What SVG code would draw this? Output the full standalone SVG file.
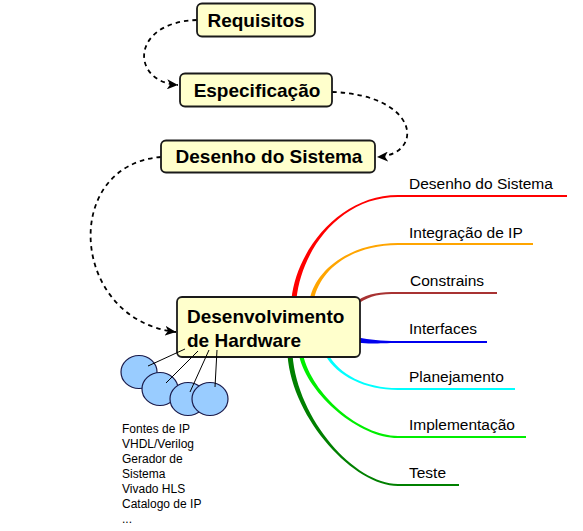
<svg xmlns="http://www.w3.org/2000/svg" width="583" height="531" viewBox="0 0 583 531">
<style>
.node{fill:#ffffcc;stroke:#1a1a1a;stroke-width:1.8}
.title{font-family:"Liberation Sans",Arial,sans-serif;font-weight:bold;font-size:19px;fill:#000}
.lbl{font-family:"Liberation Sans",Arial,sans-serif;font-size:15.5px;fill:#000}
.sm{font-family:"Liberation Sans",Arial,sans-serif;font-size:12px;fill:#000}
.dash{fill:none;stroke:#000;stroke-width:1.8;stroke-dasharray:4.5 4;marker-end:url(#arr)}
.blob{fill:#99ccff;stroke:#1a1a4a;stroke-width:1.2}
.thin{stroke:#000;stroke-width:1}
</style>
<defs>
<marker id="arr" markerUnits="userSpaceOnUse" markerWidth="12" markerHeight="10" refX="11" refY="5" orient="auto">
<path d="M0,0 L11,5 L0,10 L3,5 Z" fill="#000"/>
</marker>
</defs>
<g id="connectors">
<path class="dash" d="M197,20 C130,22 130,82 178,85"/>
<path class="dash" d="M332,92 C420,95 425,155 377,157"/>
<path class="dash" d="M161,157 C60,165 70,320 176,332"/>
<path fill="#ff0000" d="M291.5,299 C296.5,250 340,195 398,195 L567,195 L567,197 L398,197 C340,197 301.5,250 296.5,299 Z"/>
<path fill="#ffa500" d="M310,298.6 C316,269.6 350,243 398,243 L533,243 L533,245 L398,245 C350,245 320,270.4 314,299.4 Z"/>
<path fill="#a83232" d="M357.2,300.8 C369.2,292.8 380,292 398,292 L497,292 L497,294 L398,294 C380,294 370.8,295.2 358.8,303.2 Z"/>
<path fill="#0000ee" d="M358,337.5 C370,339.5 380,341 398,341 L487,341 L487,343 L398,343 C380,343 370,344.5 358,342.5 Z"/>
<path fill="#00ffff" d="M328.3,354.2 C339.3,374.2 365,388 398,388 L515,388 L515,390 L398,390 C365,390 336.7,375.8 325.7,355.8 Z"/>
<path fill="#00ee00" d="M303,354.6 C312,394.6 360,436 398,436 L526,436 L526,438 L398,438 C360,438 308,395.4 299,355.4 Z"/>
<path fill="#008000" d="M292.5,354.8 C297.5,419.8 355,484 398,484 L459,484 L459,486 L398,486 C355,486 292.5,420.2 287.5,355.2 Z"/>
</g>
<g id="requisitos">
<rect class="node" x="197" y="3.5" width="118" height="33" rx="5"/>
<text class="title" x="256" y="27" text-anchor="middle">Requisitos</text>
</g>
<g id="especificacao">
<rect class="node" x="180" y="73.5" width="152" height="33" rx="5"/>
<text class="title" x="257" y="97" text-anchor="middle">Especificação</text>
</g>
<g id="desenho">
<rect class="node" x="161" y="140.5" width="214" height="32" rx="5"/>
<text class="title" x="269" y="163" text-anchor="middle">Desenho do Sistema</text>
</g>
<g id="desenvolvimento">
<rect class="node" x="177" y="297" width="183" height="60" rx="5"/>
<text class="title" x="187" y="323">Desenvolvimento</text>
<text class="title" x="187" y="347">de Hardware</text>
</g>
<g id="ferramentas">
<ellipse class="blob" cx="139" cy="372" rx="18" ry="16.5"/>
<ellipse class="blob" cx="160" cy="389" rx="18" ry="16.5"/>
<ellipse class="blob" cx="188" cy="399" rx="18" ry="16.5"/>
<ellipse class="blob" cx="210" cy="399" rx="18" ry="16.5"/>
<line class="thin" x1="148" y1="366" x2="185" y2="349"/>
<line class="thin" x1="166" y1="383" x2="198" y2="351"/>
<line class="thin" x1="190" y1="392" x2="209" y2="350"/>
<line class="thin" x1="215" y1="387" x2="217" y2="350"/>
<text class="sm" x="122" y="433">Fontes de IP</text>
<text class="sm" x="122" y="448">VHDL/Verilog</text>
<text class="sm" x="122" y="463">Gerador de</text>
<text class="sm" x="122" y="478">Sistema</text>
<text class="sm" x="122" y="493">Vivado HLS</text>
<text class="sm" x="122" y="508">Catalogo de IP</text>
<text class="sm" x="122" y="523">...</text>
</g>
<g id="b-desenho"><text class="lbl" x="409" y="189">Desenho do Sistema</text></g>
<g id="b-integracao"><text class="lbl" x="409" y="238">Integração de IP</text></g>
<g id="b-constrains"><text class="lbl" x="410" y="286">Constrains</text></g>
<g id="b-interfaces"><text class="lbl" x="409" y="334">Interfaces</text></g>
<g id="b-planejamento"><text class="lbl" x="409" y="382">Planejamento</text></g>
<g id="b-implementacao"><text class="lbl" x="409" y="430">Implementação</text></g>
<g id="b-teste"><text class="lbl" x="409" y="478">Teste</text></g>
</svg>
